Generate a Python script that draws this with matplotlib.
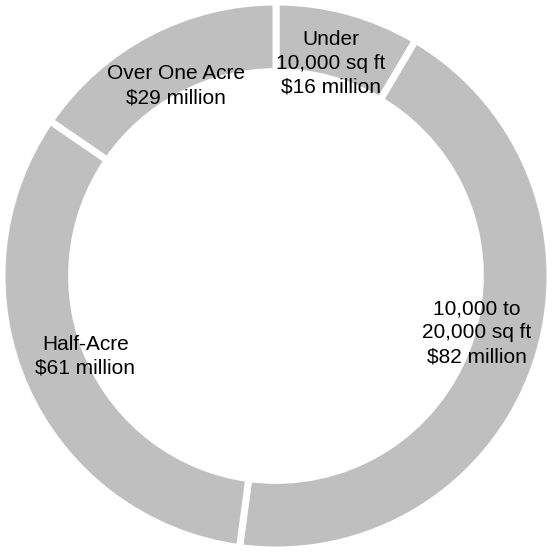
import numpy as np
import matplotlib
matplotlib.use("Agg")
import matplotlib.pyplot as plt

# Data
categories = ["Under\n10,000 sq ft", "10,000 to\n20,000 sq ft", "Half-Acre", "Over One Acre"]
values = [16, 82, 61, 29]  # $ million
value_labels = ["$16 million", "$82 million", "$61 million", "$29 million"]

# Layout (label placement in polar terms relative to wedge mid-angle)
label_dist = [0.803, 0.762, 0.755, 0.785]
label_angle_nudge = [-0.8, -3.4, 1.1, 0.0]

plt.rcParams['font.family'] = ['Liberation Sans', 'DejaVu Sans']

fig = plt.figure(figsize=(5.52, 5.52), dpi=100)
ax = fig.add_axes([0, 0, 1, 1])
R = 1.0
wedges, _ = ax.pie(values, startangle=90, counterclock=False, radius=R,
                   colors=['#bfbfbf'] * len(values),
                   wedgeprops=dict(width=0.254, edgecolor='white', linewidth=5.0))

total = sum(values)
cum = 0
for i, v in enumerate(values):
    mid = (cum + v / 2) / total * 360 + label_angle_nudge[i]
    cum += v
    th = np.deg2rad(mid)
    x = label_dist[i] * np.sin(th)
    y = label_dist[i] * np.cos(th)
    ax.text(x, y, categories[i] + "\n" + value_labels[i], ha='center', va='center',
            fontsize=15, color='black', linespacing=1.33)

lim = 276.0 / 274.0
ax.set_xlim(-lim, lim)
ax.set_ylim(-lim, lim)
ax.set_aspect('equal')
ax.axis('off')
fig.savefig("out.png", dpi=100, facecolor='white')
